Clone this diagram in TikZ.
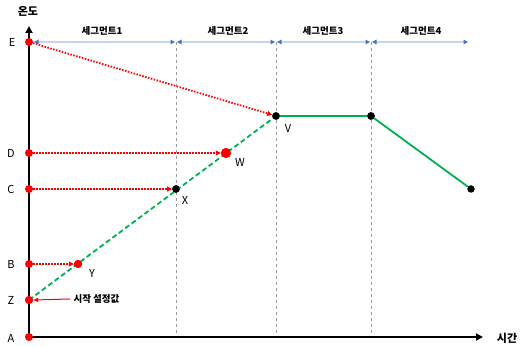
\documentclass[tikz,border=0pt]{standalone}
\usepackage{fontspec}
\setmainfont{Noto Sans CJK KR}
\usetikzlibrary{arrows.meta}
\definecolor{redc}{HTML}{FF0000}
\definecolor{greenc}{HTML}{00B050}
\definecolor{segline}{HTML}{C9D6EA}
\definecolor{segtip}{HTML}{4472C4}
\definecolor{guide}{HTML}{9A9A9A}
\begin{document}
\begin{tikzpicture}[x=1pt,y=-1pt,
  reddot/.style={circle,fill=redc,inner sep=0pt,minimum size=8pt},
  bigreddot/.style={circle,fill=redc,inner sep=0pt,minimum size=10pt},
  blackdot/.style={circle,fill=black,inner sep=0pt,minimum size=7.5pt},
  lab/.style={font=\fontsize{11}{13}\selectfont},
  seglab/.style={font=\fontsize{9.5}{11}\selectfont\bfseries},
  axisline/.style={line width=1.8pt,-{Triangle[length=7pt,width=7pt]}},
  guideline/.style={guide,line width=0.8pt,dash pattern=on 3.5pt off 2.5pt},
  segarrow/.style={segline,line width=1.2pt,{Triangle[length=4.5pt,width=4.5pt,color=segtip]}-{Triangle[length=4.5pt,width=4.5pt,color=segtip]}},
  redarrow/.style={redc,line width=1.8pt,dash pattern=on 1.5pt off 1.5pt,-{Triangle[length=5pt,width=5pt]}},
  greendash/.style={greenc,line width=1.8pt,dash pattern=on 5pt off 3pt},
  greensolid/.style={greenc,line width=1.8pt}
]
\useasboundingbox (0,0) rectangle (520,347);
% axes
\coordinate (O) at (29,337);
\coordinate (ytop) at (29,26);
\coordinate (xend) at (483,337);
% guide lines
\coordinate (g1t) at (176,42); \coordinate (g1b) at (176,334);
\coordinate (g2t) at (276,42); \coordinate (g2b) at (276,334);
\coordinate (g3t) at (371,42); \coordinate (g3b) at (371,334);
\draw[guideline] (g1t) -- (g1b);
\draw[guideline] (g2t) -- (g2b);
\draw[guideline] (g3t) -- (g3b);
% segment arrows
\coordinate (s1a) at (34,42); \coordinate (s1b) at (175,42);
\coordinate (s2a) at (177,42); \coordinate (s2b) at (275,42);
\coordinate (s3a) at (277,42); \coordinate (s3b) at (370,42);
\coordinate (s4a) at (372,42); \coordinate (s4b) at (468,42);
\draw[segarrow] (s1a) -- (s1b);
\draw[segarrow] (s2a) -- (s2b);
\draw[segarrow] (s3a) -- (s3b);
\draw[segarrow] (s4a) -- (s4b);
\node[seglab] (L1) at (102,31) {세그먼트1};
\node[seglab] (L2) at (228,31) {세그먼트2};
\node[seglab] (L3) at (323,31) {세그먼트3};
\node[seglab] (L4) at (421,31) {세그먼트4};
\draw[axisline] (O) -- (ytop);
\draw[axisline] (O) -- (xend);
% points
\node[blackdot] (V) at (276,116) {};
\node[blackdot] (V2) at (371,116) {};
\node[blackdot] (Pend) at (471,189) {};
\node[blackdot] (X) at (176,189) {};
\node[bigreddot] (W) at (226,153) {};
\node[reddot] (Y) at (78,264) {};
\node[reddot] (E) at (29,42) {};
\node[reddot] (D) at (29,153) {};
\node[reddot] (C) at (29,189) {};
\node[reddot] (B) at (29,264) {};
\node[reddot] (Z) at (29,300) {};
\node[reddot] (A) at (29,337) {};
% lines
\draw[greendash] (Z.center) -- (V.center);
\draw[greensolid] (V) -- (V2) -- (Pend);
\draw[redarrow] (E) -- (V);
\draw[redarrow] (D) -- (W);
\draw[redarrow] (C) -- (X);
\draw[redarrow] (B) -- (Y);
% redraw dots on top
\node[blackdot] at (V) {};
\node[blackdot] at (V2) {};
\node[blackdot] at (X) {};
\node[bigreddot] at (W) {};
\node[reddot] at (Y) {};
\node[reddot] at (Z) {};
% labels
\node[lab] (tE) at (12,42) {E};
\node[lab] (tD) at (11,153) {D};
\node[lab] (tC) at (11,189) {C};
\node[lab] (tB) at (11,264) {B};
\node[lab] (tZ) at (11,300) {Z};
\node[lab] (tA) at (11,338) {A};
\node[lab] (tV) at (288,128) {V};
\node[lab] (tW) at (240,162) {W};
\node[lab] (tX) at (185,200) {X};
\node[lab] (tY) at (92,273) {Y};
\node[lab,font=\fontsize{11}{13}\selectfont\bfseries] (temp) at (28,11) {온도};
\node[lab,font=\fontsize{11}{13}\selectfont\bfseries] (time) at (507,338) {시간};
\node[seglab,anchor=west] (start) at (70,299) {시작 설정값};
\draw[redc,line width=1pt,-{Triangle[length=5pt,width=4pt]}] (start.west) -- (Z.east);
\end{tikzpicture}
\end{document}
